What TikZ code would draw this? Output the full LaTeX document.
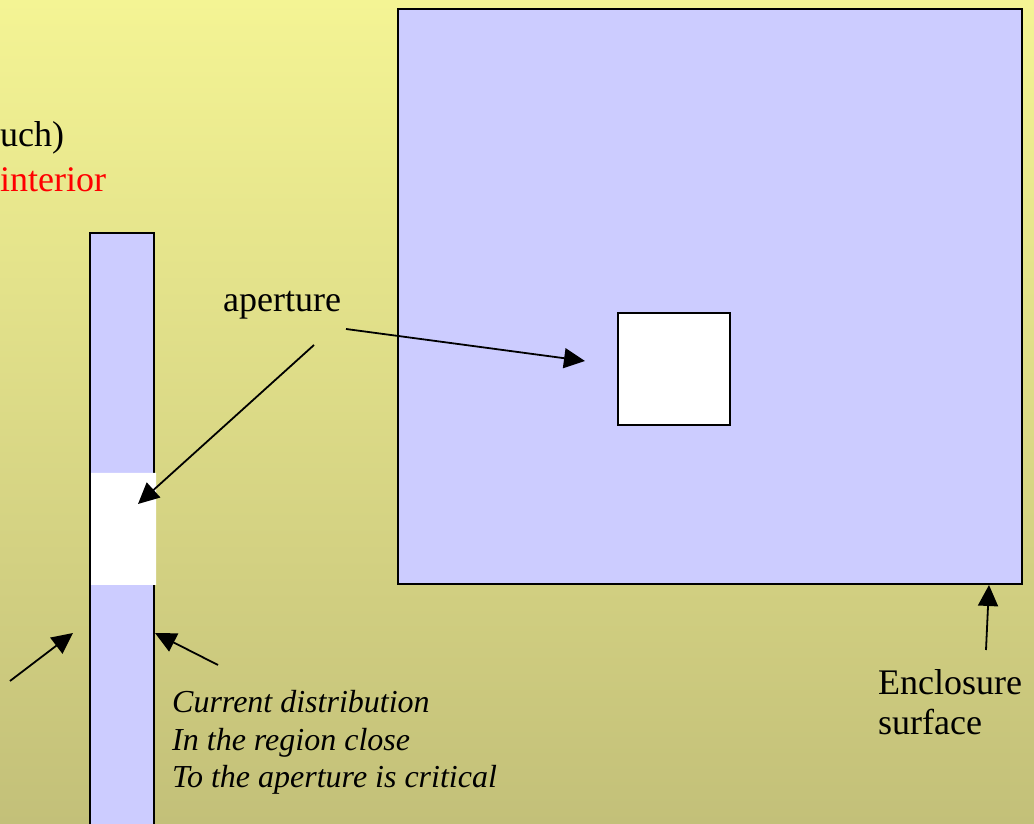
\documentclass[tikz,border=0pt]{standalone}
\usepackage{fontspec}
\setmainfont{Liberation Serif}
\usepackage{tkz-euclide}
\usetikzlibrary{arrows.meta}
\definecolor{PlateClr}{HTML}{CCCCFF}
\definecolor{BgTopClr}{HTML}{F4F494}
\definecolor{BgBotClr}{HTML}{C3C079}

\begin{document}
\begin{tikzpicture}[x=1pt,y=1pt,
  rim/.style={draw=black,line width=2pt},
  lbl/.style={inner sep=0pt,anchor=base west,font=\fontsize{36}{43}\selectfont},
  note/.style={inner sep=0pt,anchor=base west,font=\fontsize{32}{38}\selectfont\itshape},
  pointer/.style={line width=1.8pt,-{Triangle[length=21pt,width=20pt]}}]
\shade[top color=BgTopClr,bottom color=BgBotClr] (0,0) rectangle (1034,824);
\useasboundingbox (0,0) rectangle (1034,824);

% enclosure and its aperture
\tkzDefPoints{398/240/E1,1022/240/E2,1022/815/E3,398/815/E4}
\tkzDefPoints{618/399/H1,730/399/H2,730/511/H3,618/511/H4}
\tkzFillPolygon[fill=PlateClr](E1,E2,E3,E4)
\draw[rim] (E1) -- (E2) -- (E3) -- (E4) -- cycle;
\tkzFillPolygon[fill=white](H1,H2,H3,H4)
\draw[rim] (H1) -- (H2) -- (H3) -- (H4) -- cycle;

% side view of the wall
\tkzDefPoints{90/-10/S1,154/-10/S2,154/591/S3,90/591/S4}
\tkzDefPoints{91/239/W1,156/239/W2,156/351/W3,91/351/W4}
\tkzFillPolygon[fill=PlateClr](S1,S2,S3,S4)
\draw[rim] (S1) -- (S2) -- (S3) -- (S4) -- cycle;
\tkzFillPolygon[fill=white](W1,W2,W3,W4)

% labels
\node[lbl] (such) at (0,677) {uch)};
\node[lbl,text=red] (interior) at (0,632) {interior};
\node[lbl] (aperture) at (223,512) {aperture};
\node[lbl] (encl) at (878,129) {Enclosure};
\node[lbl] (surf) at (878,89) {surface};
\node[note] (cur1) at (172,111) {Current distribution};
\node[note] (cur2) at (172,73) {In the region close};
\node[note] (cur3) at (172,36) {To the aperture is critical};

% arrows
\tkzDefPoints{346/495/P1,585/463/T1,314/479/P2,138/320/T2}
\tkzDefPoints{10/143/P3,73/191/T3,218/159/P4,155/191/T4}
\tkzDefPoints{986/174/P5,989/239/T5}
\draw[pointer] (P1) -- (T1);
\draw[pointer] (P2) -- (T2);
\draw[pointer] (P3) -- (T3);
\draw[pointer] (P4) -- (T4);
\draw[pointer] (P5) -- (T5);

\end{tikzpicture}
\end{document}
